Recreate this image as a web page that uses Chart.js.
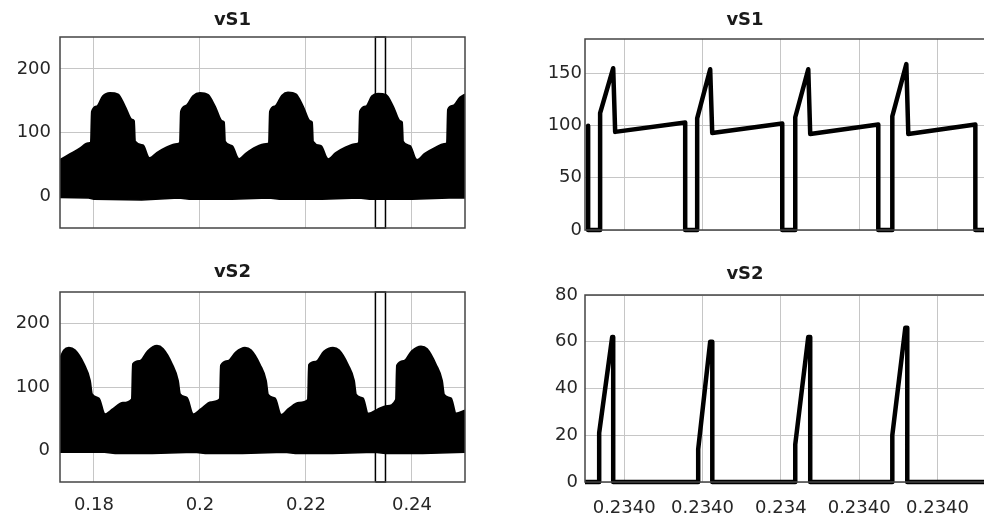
<!DOCTYPE html>
<html>
<head>
<meta charset="utf-8">
<title>vS1 / vS2</title>
<script src="https://cdn.jsdelivr.net/npm/chart.js@4.4.1/dist/chart.umd.min.js"></script>
<style>
  html, body { margin: 0; padding: 0; background: #fff; }
  body { width: 984px; height: 522px; overflow: hidden; position: relative; }
  canvas { position: absolute; }
</style>
</head>
<body>
<canvas id="vs1Wide" width="480" height="250" style="left:0;top:0"></canvas>
<canvas id="vs2Wide" width="480" height="267" style="left:0;top:255px"></canvas>
<canvas id="vs1Zoom" width="500" height="250" style="left:500px;top:0"></canvas>
<canvas id="vs2Zoom" width="500" height="267" style="left:500px;top:255px"></canvas>
<script>
// ---- wide view (s): upper / lower envelope of the switching waveform ----
var tUp1 = [0.17358, 0.17547, 0.17736, 0.17887, 0.17943, 0.17962, 0.18057, 0.18170, 0.18302, 0.18453,
  0.18585, 0.18717, 0.18755, 0.18774, 0.18925, 0.19019, 0.19057, 0.19189, 0.19377, 0.19566,
  0.19623, 0.19642, 0.19736, 0.19868, 0.20000, 0.20151, 0.20283, 0.20415, 0.20453, 0.20472,
  0.20604, 0.20698, 0.20736, 0.20868, 0.21057, 0.21245, 0.21302, 0.21321, 0.21415, 0.21547,
  0.21660, 0.21811, 0.21943, 0.22075, 0.22113, 0.22132, 0.22283, 0.22377, 0.22415, 0.22566,
  0.22755, 0.22943, 0.23000, 0.23019, 0.23132, 0.23245, 0.23358, 0.23509, 0.23642, 0.23774,
  0.23811, 0.23830, 0.23962, 0.24057, 0.24094, 0.24245, 0.24434, 0.24604, 0.24660, 0.24679,
  0.24774, 0.24906, 0.25000];
var vUp1 = [57, 66, 75, 83, 84, 133, 141, 157, 162, 160,
  141, 120, 118, 86, 80, 62, 60, 68, 77, 82,
  84, 133, 142, 157, 162, 159, 141, 118, 116, 86,
  79, 62, 58, 67, 77, 82, 83, 133, 141, 158,
  163, 160, 141, 118, 116, 86, 79, 62, 58, 68,
  77, 82, 84, 133, 141, 157, 161, 159, 141, 118,
  116, 86, 79, 60, 57, 67, 76, 82, 83, 136,
  142, 155, 160];
var tLow1 = [0.1736, 0.1790, 0.1800, 0.1890, 0.1960, 0.1980, 0.2060, 0.2130, 0.2150, 0.2230, 0.2300, 0.2320, 0.2400, 0.2470, 0.2500];
var vLow1 = [-2, -3, -5, -6, -3, -5, -5, -3, -5, -5, -3, -5, -5, -3, -3];

var tUp2 = [0.17358, 0.17434, 0.17528, 0.17642, 0.17811, 0.17925, 0.17962, 0.18094, 0.18189, 0.18208,
  0.18358, 0.18547, 0.18717, 0.18736, 0.18868, 0.19019, 0.19189, 0.19302, 0.19472, 0.19585,
  0.19623, 0.19755, 0.19849, 0.19868, 0.20019, 0.20208, 0.20377, 0.20396, 0.20528, 0.20679,
  0.20849, 0.20962, 0.21132, 0.21245, 0.21283, 0.21415, 0.21509, 0.21528, 0.21679, 0.21868,
  0.22038, 0.22057, 0.22189, 0.22340, 0.22509, 0.22623, 0.22792, 0.22906, 0.22943, 0.23075,
  0.23170, 0.23189, 0.23340, 0.23528, 0.23698, 0.23717, 0.23849, 0.24000, 0.24170, 0.24283,
  0.24453, 0.24566, 0.24604, 0.24736, 0.24830, 0.25000];
var vUp2 = [145, 158, 162, 158, 136, 110, 89, 82, 58, 57,
  65, 75, 81, 136, 141, 157, 165, 160, 136, 110,
  89, 83, 59, 57, 65, 76, 81, 134, 141, 155,
  162, 158, 135, 110, 88, 82, 58, 56, 66, 75,
  80, 135, 140, 156, 162, 158, 135, 110, 88, 82,
  58, 58, 64, 70, 80, 134, 141, 157, 164, 160,
  135, 110, 88, 82, 58, 63];
var tLow2 = [0.1736, 0.1820, 0.1840, 0.1910, 0.1990, 0.2010, 0.2080, 0.2160, 0.2180, 0.2250, 0.2330, 0.2350, 0.2420, 0.2500];
var vLow2 = [-3, -3, -5, -5, -3, -5, -5, -3, -5, -5, -3, -5, -5, -3];

// zoom window marked on the wide view
var tWin = [0.2331, 0.2331, 0.2350, 0.2350, 0.2331];
var vWin = [-50, 250, 250, -50, -50];

var wideXTicks = [0.18, 0.2, 0.22, 0.24];
var wideXLabels = ["0.18", "0.2", "0.22", "0.24"];
var wideYTicks = [0, 100, 200];

// ---- zoomed view: grid divisions 1..5 ----
var tZ1 = [0.540, 0.540, 0.693, 0.693, 0.860, 0.885, 1.779, 1.779, 1.932, 1.932, 2.098, 2.124, 3.018, 3.018,
  3.184, 3.184, 3.350, 3.375, 4.244, 4.244, 4.423, 4.423, 4.602, 4.627, 5.483, 5.483, 5.700];
var vZ1 = [100, 0, 0, 112, 155, 94, 103, 0, 0, 107, 154, 93, 102, 0,
  0, 108, 154, 92, 101, 0, 0, 109, 159, 92, 101, 0, 0];

var tZ2 = [0.500, 0.681, 0.681, 0.847, 0.860, 0.860, 1.945, 1.945, 2.098, 2.125, 2.125, 3.184, 3.184, 3.350,
  3.375, 3.375, 4.423, 4.423, 4.589, 4.614, 4.614, 5.700];
var vZ2 = [0, 0, 21, 62, 62, 0, 0, 14, 60, 60, 0, 0, 16, 62,
  62, 0, 0, 20, 66, 66, 0, 0];

var zoomXTicks = [1, 2, 3, 4, 5];
var zoomXLabels = ["0.2340", "0.2340", "0.234", "0.2340", "0.2340"];
var zoomY1Ticks = [0, 50, 100, 150];
var zoomY2Ticks = [0, 20, 40, 60, 80];

Chart.defaults.font.family = "'DejaVu Sans', sans-serif";
Chart.defaults.font.size = 18;
Chart.defaults.color = "#262626";
Chart.defaults.animation = false;
Chart.defaults.responsive = false;
Chart.defaults.devicePixelRatio = 1;
Chart.defaults.plugins.legend.display = false;
Chart.defaults.plugins.tooltip.enabled = false;
Chart.defaults.elements.point.radius = 0;

var GRID = "#c6c6c6";

function pts(xs, ys) {
  return xs.map(function (x, i) { return { x: x, y: ys[i] }; });
}

function useTicks(values) {
  return function (axis) { axis.ticks = values.map(function (v) { return { value: v }; }); };
}

// MATLAB style box round the plot area
var boxPlugin = {
  id: "box",
  afterDraw: function (chart) {
    var a = chart.chartArea, ctx = chart.ctx;
    ctx.save();
    ctx.strokeStyle = "#444";
    ctx.lineWidth = 1.5;
    ctx.strokeRect(a.left, a.top, a.right - a.left, a.bottom - a.top);
    ctx.restore();
  }
};

function makePlot(id, o) {
  return new Chart(document.getElementById(id), {
    type: "line",
    data: { datasets: o.datasets },
    options: {
      layout: { padding: { right: o.padRight } },
      plugins: {
        title: {
          display: true,
          text: o.title,
          color: "#1a1a1a",
          font: { size: 18, weight: "bold", lineHeight: 1 },
          padding: o.titlePad,
        },
      },
      scales: {
        x: {
          type: "linear",
          min: o.xMin,
          max: o.xMax,
          afterBuildTicks: useTicks(o.xTicks),
          afterFit: function (s) { s.height = o.xHeight; },
          grid: { color: GRID, drawTicks: false },
          border: { display: false },
          ticks: {
            display: !!o.xLabels,
            autoSkip: false,
            maxRotation: 0,
            padding: o.xPad,
            callback: function (v, i) { return o.xLabels ? o.xLabels[i] : ""; },
          },
        },
        y: {
          min: o.yMin,
          max: o.yMax,
          afterBuildTicks: useTicks(o.yTicks),
          afterFit: function (s) { s.width = o.yWidth; },
          grid: { color: GRID, drawTicks: false },
          border: { display: false },
          ticks: { padding: o.yPad },
        },
      },
    },
    plugins: [boxPlugin],
  });
}

function wideSets(tUp, vUp, tLow, vLow) {
  return [
    { data: pts(tLow, vLow), borderColor: "#000", borderWidth: 1.5, fill: false },
    { data: pts(tUp, vUp), borderColor: "#000", borderWidth: 2, backgroundColor: "#000", fill: "-1",
      cubicInterpolationMode: "monotone" },
    { data: pts(tWin, vWin), borderColor: "#000", borderWidth: 1.5, fill: false, clip: false },
  ];
}

function zoomSet(t, v) {
  return [{
    data: pts(t, v), borderColor: "#000", borderWidth: 4.5, fill: false,
    borderJoinStyle: "round", borderCapStyle: "round",
    clip: { left: 0, top: 5, right: 0, bottom: 5 },
  }];
}

makePlot("vs1Wide", {
  title: "vS1", titlePad: { top: 11, bottom: 8 },
  datasets: wideSets(tUp1, vUp1, tLow1, vLow1),
  xMin: 0.1736, xMax: 0.25, xTicks: wideXTicks, xLabels: null, xHeight: 22, xPad: 0,
  yMin: -50, yMax: 250, yTicks: wideYTicks, yWidth: 60, yPad: 9, padRight: 15,
});

makePlot("vs2Wide", {
  title: "vS2", titlePad: { top: 8, bottom: 11 },
  datasets: wideSets(tUp2, vUp2, tLow2, vLow2),
  xMin: 0.1736, xMax: 0.25, xTicks: wideXTicks, xLabels: wideXLabels, xHeight: 40, xPad: 13,
  yMin: -50, yMax: 250, yTicks: wideYTicks, yWidth: 60, yPad: 10, padRight: 15,
});

makePlot("vs1Zoom", {
  title: "vS1", titlePad: { top: 11, bottom: 10 },
  datasets: zoomSet(tZ1, vZ1),
  xMin: 0.50, xMax: 5.67, xTicks: zoomXTicks, xLabels: null, xHeight: 20, xPad: 0,
  yMin: 0, yMax: 183, yTicks: zoomY1Ticks, yWidth: 85, yPad: 3, padRight: 10,
});

makePlot("vs2Zoom", {
  title: "vS2", titlePad: { top: 10, bottom: 12 },
  datasets: zoomSet(tZ2, vZ2),
  xMin: 0.50, xMax: 5.67, xTicks: zoomXTicks, xLabels: zoomXLabels, xHeight: 40, xPad: 16,
  yMin: 0, yMax: 80, yTicks: zoomY2Ticks, yWidth: 85, yPad: 7, padRight: 10,
});
</script>
</body>
</html>
